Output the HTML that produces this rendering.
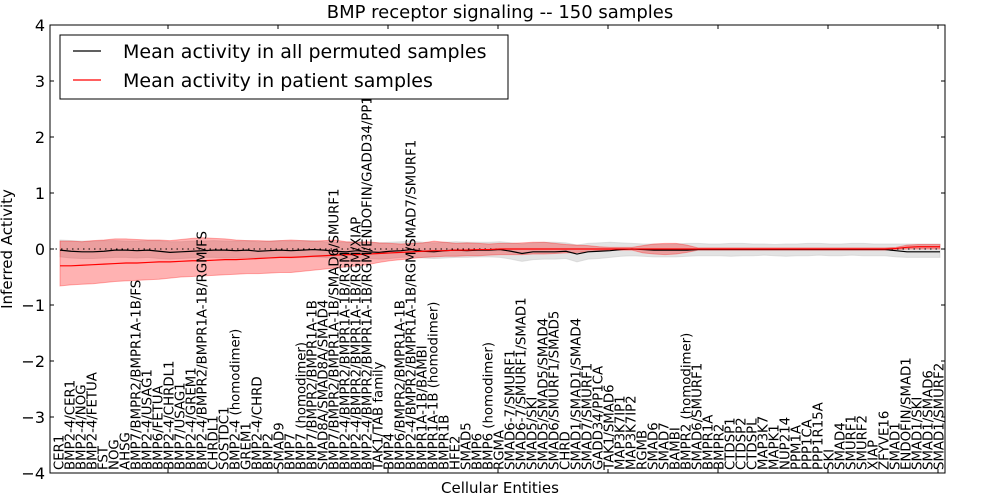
<!DOCTYPE html>
<html><head><meta charset="utf-8"><style>
body{margin:0;background:#fff}
svg{display:block;font-family:"DejaVu Sans","Liberation Sans",sans-serif}
</style></head><body>
<svg id="chart" width="1000" height="500" viewBox="0 0 1000 500">
<rect x="0" y="0" width="1000" height="500" fill="#fff"/>
<g id="plot"></g>
</svg>
<script>
const labels=["CER1","BMP2-4/CER1","BMP2-4/NOG","BMP2-4/FETUA","FST","NOG","AHSG","BMP7/BMPR2/BMPR1A-1B/FS","BMP2-4/USAG1","BMP6/FETUA","BMP2-4/CHRDL1","BMP7/USAG1","BMP2-4/GREM1","BMP2-4/BMPR2/BMPR1A-1B/RGM/FS","CHRDL1","SOSTDC1","BMP2-4 (homodimer)","GREM1","BMP2-4/CHRD","BMP2","SMAD9","BMP7","BMP7 (homodimer)","BMP7/BMPR2/BMPR1A-1B","SMAD8A/SMAD8A/SMAD4","BMP7/BMPR2/BMPR1A-1B/SMAD6/SMURF1","BMP2-4/BMPR2/BMPR1A-1B/RGM","BMP2-4/BMPR2/BMPR1A-1B/RGM/XIAP","BMP2-4/BMPR2/BMPR1A-1B/RGM/ENDOFIN/GADD34/PP1CA","TAK1/TAB family","BMP4","BMP6/BMPR2/BMPR1A-1B","BMP2-4/BMPR2/BMPR1A-1B/RGM/SMAD7/SMURF1","BMPR1A-1B/BAMBI","BMPR1A-1B (homodimer)","BMPR1B","HFE2","SMAD5","BMP6","BMP6 (homodimer)","RGMA","SMAD6-7/SMURF1","SMAD6-7/SMURF1/SMAD1","SMAD5/SKI","SMAD5/SMAD5/SMAD4","SMAD6/SMURF1/SMAD5","CHRD","SMAD1/SMAD1/SMAD4","SMAD7/SMURF1","GADD34/PP1CA","TAK1/SMAD6","MAP3K7IP1","MAP3K7IP2","RGMB","SMAD6","SMAD7","BAMBI","BMPR2 (homodimer)","SMAD6/SMURF1","BMPR1A","BMPR2","CTDSP1","CTDSP2","CTDSPL","MAP3K7","MAPK1","NUP214","PPM1A","PPP1CA","PPP1R15A","SKI","SMAD4","SMURF1","SMURF2","XIAP","ZFYVE16","SMAD1","ENDOFIN/SMAD1","SMAD1/SKI","SMAD1/SMAD6","SMAD1/SMURF2"];
const redMean=[-0.30,-0.30,-0.29,-0.28,-0.27,-0.26,-0.25,-0.25,-0.24,-0.23,-0.23,-0.22,-0.21,-0.21,-0.20,-0.19,-0.19,-0.18,-0.17,-0.16,-0.15,-0.15,-0.14,-0.13,-0.12,-0.11,-0.10,-0.10,-0.09,-0.08,-0.07,-0.06,-0.05,-0.04,-0.03,-0.03,-0.02,-0.02,-0.01,-0.01,0,0,0,0,0,0,0,0,0,0,0,0,0,0,0,0,0,0,0,0,0,0,0,0,0,0,0,0,0,0,0,0,0,0,0,0,0.01,0.03,0.04,0.04,0.04];
const redHi=[0.14,0.14,0.13,0.15,0.16,0.18,0.18,0.17,0.16,0.16,0.15,0.17,0.19,0.20,0.19,0.18,0.16,0.15,0.15,0.14,0.15,0.16,0.15,0.14,0.15,0.16,0.13,0.12,0.13,0.11,0.10,0.09,0.10,0.11,0.14,0.12,0.10,0.11,0.10,0.09,0.10,0.10,0.11,0.12,0.12,0.10,0.08,0.07,0.06,0.04,0.03,0.03,0.03,0.06,0.09,0.10,0.10,0.07,0.02,0.02,0.02,0.02,0.02,0.02,0.02,0.02,0.02,0.02,0.02,0.02,0.02,0.02,0.02,0.02,0.02,0.02,0.03,0.07,0.08,0.08,0.08];
const redLo=[-0.66,-0.64,-0.63,-0.62,-0.60,-0.58,-0.57,-0.56,-0.55,-0.54,-0.52,-0.50,-0.49,-0.48,-0.47,-0.46,-0.45,-0.44,-0.44,-0.43,-0.42,-0.42,-0.40,-0.38,-0.36,-0.34,-0.32,-0.30,-0.28,-0.24,-0.21,-0.19,-0.17,-0.15,-0.14,-0.13,-0.13,-0.12,-0.12,-0.11,-0.10,-0.10,-0.10,-0.09,-0.09,-0.08,-0.07,-0.06,-0.05,-0.03,-0.02,-0.02,-0.02,-0.07,-0.09,-0.10,-0.09,-0.06,-0.02,-0.02,-0.02,-0.02,-0.02,-0.02,-0.02,-0.02,-0.02,-0.02,-0.02,-0.02,-0.02,-0.02,-0.02,-0.02,-0.02,-0.02,-0.01,0,0,0,0];
const blackMean=[-0.02,-0.04,-0.05,-0.05,-0.04,-0.02,-0.02,-0.03,-0.02,-0.04,-0.06,-0.05,-0.04,-0.03,-0.02,-0.02,-0.03,-0.02,-0.04,-0.03,-0.02,-0.03,-0.02,-0.01,-0.02,-0.04,-0.05,-0.03,-0.05,-0.06,-0.04,-0.03,-0.01,-0.04,-0.05,-0.03,-0.02,-0.03,-0.02,-0.02,-0.01,-0.04,-0.08,-0.05,-0.05,-0.05,-0.04,-0.09,-0.05,-0.04,-0.03,-0.01,0,-0.01,-0.02,-0.02,-0.02,-0.02,-0.01,-0.01,-0.01,-0.01,-0.01,-0.01,-0.01,-0.01,-0.01,-0.01,-0.01,-0.01,-0.01,-0.01,-0.01,-0.01,-0.01,-0.01,-0.03,-0.05,-0.05,-0.05,-0.05];
const grayHi=[0.16,0.15,0.14,0.14,0.15,0.15,0.14,0.14,0.15,0.15,0.13,0.13,0.14,0.14,0.15,0.14,0.14,0.15,0.13,0.14,0.15,0.14,0.15,0.15,0.13,0.12,0.12,0.13,0.12,0.11,0.12,0.13,0.14,0.12,0.11,0.12,0.13,0.12,0.12,0.12,0.13,0.11,0.09,0.11,0.12,0.12,0.11,0.07,0.10,0.11,0.12,0.11,0.10,0.09,0.09,0.08,0.09,0.10,0.10,0.09,0.09,0.10,0.10,0.09,0.09,0.08,0.09,0.09,0.10,0.10,0.09,0.09,0.10,0.10,0.09,0.09,0.09,0.09,0.09,0.09,0.09];
const grayLo=[-0.14,-0.16,-0.17,-0.17,-0.16,-0.15,-0.15,-0.16,-0.15,-0.17,-0.18,-0.17,-0.16,-0.15,-0.15,-0.16,-0.16,-0.15,-0.17,-0.16,-0.15,-0.16,-0.15,-0.14,-0.15,-0.17,-0.18,-0.16,-0.17,-0.18,-0.17,-0.15,-0.14,-0.16,-0.17,-0.16,-0.15,-0.15,-0.14,-0.14,-0.15,-0.18,-0.22,-0.19,-0.18,-0.18,-0.17,-0.23,-0.18,-0.17,-0.15,-0.13,-0.12,-0.13,-0.14,-0.14,-0.14,-0.13,-0.12,-0.12,-0.12,-0.13,-0.12,-0.12,-0.11,-0.12,-0.13,-0.12,-0.12,-0.11,-0.12,-0.12,-0.11,-0.12,-0.12,-0.12,-0.14,-0.15,-0.15,-0.15,-0.15];
const yTicks=[-4,-3,-2,-1,0,1,2,3,4];
const topTicks=[9,19,29,39,49,59,69,79];

const L=50,R=945,T=25,B=473;
const NS='http://www.w3.org/2000/svg';
const xs=i=>60+(880/(labels.length-1))*i;
const ys=v=>T+(4-v)*(B-T)/8;
const g=document.getElementById('plot');
function mk(tag,attrs){const e=document.createElementNS(NS,tag);for(const k in attrs)e.setAttribute(k,attrs[k]);g.appendChild(e);return e;}
function band(hi,lo,fill,op,name){
  let d='M'+hi.map((v,i)=>xs(i)+','+ys(v)).join('L');
  for(let i=lo.length-1;i>=0;i--)d+='L'+xs(i)+','+ys(lo[i]);
  const p=mk('path',{d:d+'Z',fill:fill,'fill-opacity':op,stroke:fill,'stroke-opacity':op,'stroke-width':1});
  
  
}
function line(arr,col,name){
  const p=mk('path',{d:'M'+arr.map((v,i)=>xs(i)+','+ys(v)).join('L'),fill:'none',stroke:col,'stroke-width':1.2});
  
  
}
band(grayHi,grayLo,'#c8c8c8',0.5,'permuted-band');
band(redHi,redLo,'#ff0000',0.3,'patient-band');
const zl=mk('line',{x1:L,x2:R,y1:ys(0),y2:ys(0),stroke:'#000','stroke-dasharray':'1.5,4','stroke-width':1});


line(blackMean,'#000','permuted-mean-line');
line(redMean,'#ff0000','patient-mean-line');
const fr=mk('rect',{x:L,y:T,width:R-L,height:B-T,fill:'none',stroke:'#000','stroke-width':1});


yTicks.forEach(v=>{
  mk('line',{x1:L,x2:L+4,y1:ys(v),y2:ys(v),stroke:'#000'});
  mk('line',{x1:R-4,x2:R,y1:ys(v),y2:ys(v),stroke:'#000'});
  const t=mk('text',{x:L-5,y:ys(v)+6,'text-anchor':'end','font-size':16});
  t.textContent=(v<0?'\u2212'+(-v):String(v));
  
  
});
topTicks.forEach(i=>{
  const x=xs(i)+9;
  mk('line',{x1:x,x2:x,y1:T,y2:T+4,stroke:'#000'});
  mk('line',{x1:x,x2:x,y1:B-4,y2:B,stroke:'#000'});
});
labels.forEach((s,i)=>{
  const t=mk('text',{transform:'translate('+xs(i)+','+(B-3)+') rotate(-90)','font-size':13.3,'dominant-baseline':'central'});
  t.textContent=s;
  
  
});
const ti=mk('text',{x:500,y:18,'text-anchor':'middle','font-size':18});
ti.textContent='BMP receptor signaling -- 150 samples';


const yl=mk('text',{transform:'translate(12,249) rotate(-90)','text-anchor':'middle','font-size':15});
yl.textContent='Inferred Activity';


const xl=mk('text',{x:500,y:493,'text-anchor':'middle','font-size':15});
xl.textContent='Cellular Entities';


const lb=mk('rect',{x:60,y:35,width:448,height:64,fill:'#fff',stroke:'#000','stroke-width':1});


mk('line',{x1:73,x2:101,y1:51,y2:51,stroke:'#000','stroke-width':1.2});
mk('line',{x1:73,x2:101,y1:80,y2:80,stroke:'#ff0000','stroke-width':1.2});
const l1=mk('text',{x:123,y:58,'font-size':19});l1.textContent='Mean activity in all permuted samples';


const l2=mk('text',{x:123,y:87,'font-size':19});l2.textContent='Mean activity in patient samples';


</script>
</body></html>
